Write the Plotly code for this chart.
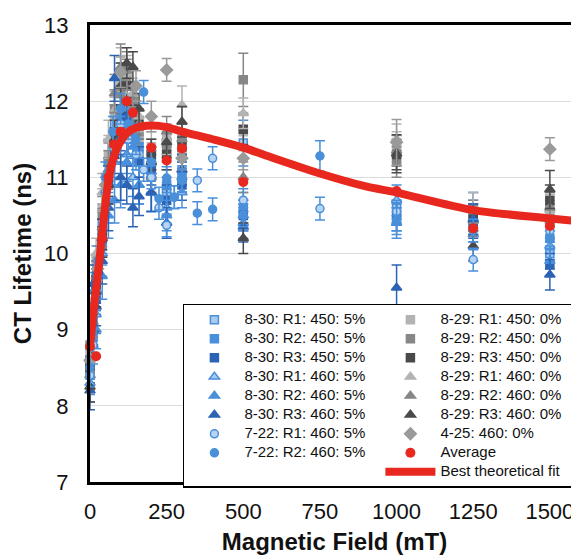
import plotly.graph_objects as go

# ---------------- data ----------------
F_830 = [0, 10, 20, 40, 60, 80, 100, 120, 140, 160, 200, 250, 300, 500, 1000, 1250, 1500]
F_829 = [0, 10, 20, 40, 60, 80, 100, 120, 140, 160, 200, 250, 300, 500, 1000, 1250, 1500]
F_722 = [0, 10, 25, 50, 75, 100, 125, 150, 175, 200, 225, 250, 275, 300, 350, 400, 500, 750, 1000, 1250, 1500]
F_425 = [0, 25, 50, 100, 150, 200, 250, 300, 500, 1000, 1500]
F_AVG = [0, 20, 40, 60, 78, 100, 120, 140, 200, 250, 300, 500, 1000, 1250, 1500]
F_FIT = [0, 13, 29, 46, 62, 85, 120, 150, 200, 250, 300, 400, 500, 600, 750, 900, 1000, 1250, 1500, 1650]

y_830_r1_450 = [8.5, 9.1, 9.6, 10.4, 11.2, 11.7, 12.1, 11.9, 11.6, 11.3, 11.0, 10.8, 11.1, 11.45, 10.6, 10.5, 10.0]
y_830_r2_450 = [8.4, 8.9, 9.5, 10.1, 11.0, 11.5, 11.8, 12.0, 11.7, 11.4, 11.2, 10.9, 11.0, 10.6, 10.45, 10.35, 10.2]
y_830_r3_450 = [8.6, 9.0, 9.4, 10.2, 10.9, 11.3, 11.6, 11.8, 11.5, 11.2, 11.1, 10.7, 10.9, 10.5, 10.5, 10.4, 9.85]
y_830_r1_460 = [8.3, 8.8, 9.2, 10.0, 10.7, 11.2, 11.5, 11.3, 11.0, 10.9, 10.8, 10.6, 10.8, 10.4, 10.7, 10.6, 10.1]
y_830_r2_460 = [8.4, 9.5, 9.0, 9.7, 10.5, 10.7, 10.9, 11.2, 11.4, 10.9, 10.8, 10.5, 11.0, 10.5, 10.4, 10.25, 9.9]
y_830_r3_460 = [8.2, 9.6, 9.3, 9.9, 10.6, 12.3, 11.0, 10.9, 10.6, 10.75, 10.8, 10.4, 11.1, 10.35, 9.55, 10.45, 9.72]

y_829_r1_450 = [8.7, 9.3, 9.9, 10.6, 11.3, 11.8, 12.2, 12.0, 11.8, 11.5, 11.4, 11.5, 11.3, 11.6, 11.4, 10.6, 10.5]
y_829_r2_450 = [8.8, 9.2, 9.7, 10.5, 11.2, 11.9, 12.1, 12.3, 11.9, 11.6, 11.3, 11.4, 11.5, 12.28, 11.2, 10.5, 10.6]
y_829_r3_450 = [8.5, 9.0, 9.6, 10.3, 11.0, 11.6, 11.9, 12.2, 12.0, 11.7, 11.3, 11.3, 11.4, 11.63, 11.3, 10.45, 10.7]
y_829_r1_460 = [8.6, 9.4, 10.0, 10.8, 11.5, 11.88, 12.4, 12.35, 12.1, 11.8, 11.2, 11.5, 11.95, 11.84, 11.5, 10.6, 10.57]
y_829_r2_460 = [8.4, 9.1, 9.7, 10.34, 11.1, 12.1, 12.45, 12.4, 12.0, 11.7, 11.0, 11.6, 11.5, 11.0, 11.35, 10.43, 10.6]
y_829_r3_460 = [8.25, 9.0, 9.5, 10.2, 10.9, 11.5, 12.2, 12.5, 12.45, 11.9, 11.2, 11.46, 11.73, 10.2, 11.31, 10.1, 10.84]

y_722_r1 = [8.4, 8.8, 9.7, 10.8, 11.4, 11.7, 11.5, 11.3, 11.1, 11.0, 10.6, 10.37, 10.74, 10.96, 10.96, 11.25, 10.7, 10.59, 10.55, 9.92, 10.3]
y_722_r2 = [8.5, 9.0, 9.9, 11.0, 11.6, 11.9, 11.7, 11.5, 12.12, 11.2, 10.72, 10.99, 10.74, 10.96, 10.53, 10.58, 10.5, 11.28, 10.45, 10.3, 10.2]

y_425 = [8.6, 9.8, 10.9, 12.38, 12.2, 11.8, 12.41, 11.25, 11.25, 11.46, 11.37]

y_avg = [8.78, 8.65, 10.2, 11.0, 11.43, 11.6, 12.0, 11.85, 11.39, 11.22, 11.38, 10.94, 10.82, 10.33, 10.36]
y_fit = [8.77, 9.3, 9.85, 10.5, 11.0, 11.35, 11.58, 11.65, 11.68, 11.66, 11.6, 11.5, 11.39, 11.25, 11.05, 10.88, 10.8, 10.57, 10.46, 10.4]

e_830_r1_450 = [0.2, 0.2, 0.25, 0.25, 0.3, 0.25, 0.3, 0.25, 0.2, 0.2, 0.2, 0.2, 0.2, 0.3, 0.2, 0.2, 0.2]
e_830_r2_450 = [0.2, 0.2, 0.2, 0.25, 0.25, 0.3, 0.25, 0.2, 0.2, 0.2, 0.2, 0.2, 0.2, 0.2, 0.2, 0.2, 0.2]
e_830_r3_450 = [0.2, 0.2, 0.2, 0.25, 0.25, 0.25, 0.25, 0.2, 0.2, 0.2, 0.2, 0.2, 0.2, 0.2, 0.2, 0.2, 0.15]
e_830_r1_460 = [0.25, 0.25, 0.25, 0.3, 0.3, 0.3, 0.3, 0.25, 0.25, 0.25, 0.25, 0.2, 0.2, 0.2, 0.2, 0.2, 0.2]
e_830_r2_460 = [0.25, 0.25, 0.25, 0.3, 0.3, 0.3, 0.3, 0.25, 0.25, 0.25, 0.25, 0.2, 0.2, 0.2, 0.2, 0.2, 0.2]
e_830_r3_460 = [0.25, 0.25, 0.25, 0.3, 0.3, 0.3, 0.3, 0.25, 0.25, 0.25, 0.25, 0.2, 0.2, 0.2, 0.3, 0.2, 0.2]
e_829_r1_450 = [0.2, 0.2, 0.2, 0.25, 0.25, 0.25, 0.3, 0.25, 0.2, 0.2, 0.2, 0.2, 0.2, 0.25, 0.2, 0.2, 0.2]
e_829_r2_450 = [0.2, 0.2, 0.2, 0.25, 0.25, 0.25, 0.3, 0.25, 0.2, 0.2, 0.2, 0.2, 0.2, 0.35, 0.2, 0.2, 0.2]
e_829_r3_450 = [0.2, 0.2, 0.2, 0.25, 0.25, 0.25, 0.3, 0.25, 0.2, 0.2, 0.2, 0.2, 0.2, 0.2, 0.2, 0.2, 0.2]
e_829_r1_460 = [0.2, 0.2, 0.2, 0.25, 0.25, 0.25, 0.3, 0.25, 0.2, 0.2, 0.2, 0.2, 0.25, 0.2, 0.2, 0.2, 0.2]
e_829_r2_460 = [0.2, 0.2, 0.2, 0.25, 0.25, 0.25, 0.3, 0.25, 0.2, 0.2, 0.2, 0.2, 0.2, 0.2, 0.2, 0.2, 0.2]
e_829_r3_460 = [0.2, 0.2, 0.2, 0.25, 0.25, 0.25, 0.3, 0.2, 0.2, 0.2, 0.2, 0.2, 0.2, 0.2, 0.25, 0.2, 0.25]
e_722_r1 = [0.15, 0.15, 0.2, 0.2, 0.2, 0.2, 0.2, 0.2, 0.15, 0.15, 0.15, 0.15, 0.15, 0.15, 0.15, 0.15, 0.15, 0.15, 0.15, 0.15, 0.15]
e_722_r2 = [0.15, 0.15, 0.2, 0.2, 0.2, 0.2, 0.2, 0.2, 0.15, 0.15, 0.15, 0.15, 0.15, 0.15, 0.15, 0.15, 0.15, 0.2, 0.15, 0.15, 0.15]
e_425 = [0.15, 0.15, 0.15, 0.2, 0.2, 0.2, 0.15, 0.15, 0.15, 0.3, 0.15]

TICKS_X = [0, 250, 500, 750, 1000, 1250, 1500]
TICKS_Y = [7, 8, 9, 10, 11, 12, 13]

# ---------------- styling ----------------
FONT = "Liberation Sans, Arial, sans-serif"
BLUE_L, BLUE_M, BLUE_D = "#a9cbf0", "#4a8fdb", "#2c63b5"
GRAY_L, GRAY_M, GRAY_D = "#b3b3b3", "#878787", "#4a4a4a"
DIAMOND = "#9a9a9a"
RED = "#e8281e"

fig = go.Figure()


def lab(t):
    return '<span style="font-size:15px">' + t + '</span>'


def add_series(x, y, e, name, symbol, fill, border, ecolor, rank, size=8):
    fig.add_trace(go.Scatter(
        x=x, y=y, mode="markers", name=lab(name), legendrank=rank,
        marker=dict(symbol=symbol, size=size, color=fill,
                    line=dict(color=border, width=1.5)),
        error_y=dict(type="data", array=e, color=ecolor, thickness=1.5, width=5),
        cliponaxis=False,
    ))


add_series(F_830, y_830_r1_450, e_830_r1_450, "8-30: R1: 450: 5%", "square", BLUE_L, BLUE_M, BLUE_M, 1)
add_series(F_829, y_829_r1_450, e_829_r1_450, "8-29: R1: 450: 0%", "square", GRAY_L, GRAY_L, GRAY_L, 2)
add_series(F_830, y_830_r2_450, e_830_r2_450, "8-30: R2: 450: 5%", "square", BLUE_M, BLUE_M, BLUE_M, 3)
add_series(F_829, y_829_r2_450, e_829_r2_450, "8-29: R2: 450: 0%", "square", GRAY_M, GRAY_M, GRAY_M, 4)
add_series(F_830, y_830_r3_450, e_830_r3_450, "8-30: R3: 450: 5%", "square", BLUE_D, BLUE_D, BLUE_D, 5)
add_series(F_829, y_829_r3_450, e_829_r3_450, "8-29: R3: 450: 0%", "square", GRAY_D, GRAY_D, GRAY_D, 6)
add_series(F_830, y_830_r1_460, e_830_r1_460, "8-30: R1: 460: 5%", "triangle-up", BLUE_L, BLUE_M, BLUE_M, 7, 9)
add_series(F_829, y_829_r1_460, e_829_r1_460, "8-29: R1: 460: 0%", "triangle-up", GRAY_L, GRAY_L, GRAY_L, 8, 9)
add_series(F_830, y_830_r2_460, e_830_r2_460, "8-30: R2: 460: 5%", "triangle-up", BLUE_M, BLUE_M, BLUE_M, 9, 9)
add_series(F_829, y_829_r2_460, e_829_r2_460, "8-29: R2: 460: 0%", "triangle-up", GRAY_M, GRAY_M, GRAY_M, 10, 9)
add_series(F_830, y_830_r3_460, e_830_r3_460, "8-30: R3: 460: 5%", "triangle-up", BLUE_D, BLUE_D, BLUE_D, 11, 9)
add_series(F_829, y_829_r3_460, e_829_r3_460, "8-29: R3: 460: 0%", "triangle-up", GRAY_D, GRAY_D, GRAY_D, 12, 9)
add_series(F_722, y_722_r1, e_722_r1, "7-22: R1: 460: 5%", "circle", "#b8d4f2", BLUE_M, BLUE_M, 13, 8)
add_series(F_425, y_425, e_425, "4-25: 460: 0%", "diamond", DIAMOND, DIAMOND, DIAMOND, 14, 9)
add_series(F_722, y_722_r2, e_722_r2, "7-22: R2: 460: 5%", "circle", "#4a90d9", "#4a90d9", "#4a90d9", 15, 8)

fig.add_trace(go.Scatter(
    x=F_FIT, y=y_fit, mode="lines", name=lab("Best theoretical fit"), legendrank=18,
    line=dict(color=RED, width=8, shape="spline", smoothing=0.8),
))
fig.add_trace(go.Scatter(
    x=F_AVG, y=y_avg, mode="markers", name=lab("Average"), legendrank=16,
    marker=dict(symbol="circle", size=10, color=RED), cliponaxis=False,
))
fig.add_trace(go.Scatter(
    x=[None], y=[None], mode="markers", name=" ", legendrank=17,
    marker=dict(color="rgba(0,0,0,0)", size=1),
))

# the page body adds an 8px margin, so the figure is sized/placed to compensate
fig.update_layout(
    width=571, height=549,
    margin=dict(l=82, r=0, t=17, b=75, autoexpand=False),
    paper_bgcolor="white", plot_bgcolor="white",
    font=dict(family=FONT, color="#111"),
    showlegend=True,
    legend=dict(
        orientation="h", x=0.19, y=0.39, xanchor="left", yanchor="top",
        entrywidth=131, entrywidthmode="pixels", itemwidth=50,
        bgcolor="white", bordercolor="black", borderwidth=1.5,
        font=dict(family=FONT, size=12, color="#111"),
        traceorder="normal", itemsizing="trace",
    ),
    xaxis=dict(
        range=[0, 1595], tickvals=TICKS_X, showgrid=False, zeroline=False,
        showline=True, linecolor="black", linewidth=3, mirror=True,
        ticks="", tickfont=dict(size=22, color="#111"), ticklabelstandoff=8,
        title=dict(text="<b>Magnetic Field (mT)</b>", font=dict(size=24, color="#111"), standoff=10),
    ),
    yaxis=dict(
        range=[7, 13], tickvals=TICKS_Y, showgrid=True, gridcolor="#dcdcdc", gridwidth=1,
        zeroline=False, showline=True, linecolor="black", linewidth=3, mirror=False,
        ticks="", tickfont=dict(size=22, color="#111"), ticklabelstandoff=14,
        title=dict(text="<b>CT Lifetime (ns)</b>", font=dict(size=24, color="#111"), standoff=6),
    ),
)

fig.write_html("out.html")
